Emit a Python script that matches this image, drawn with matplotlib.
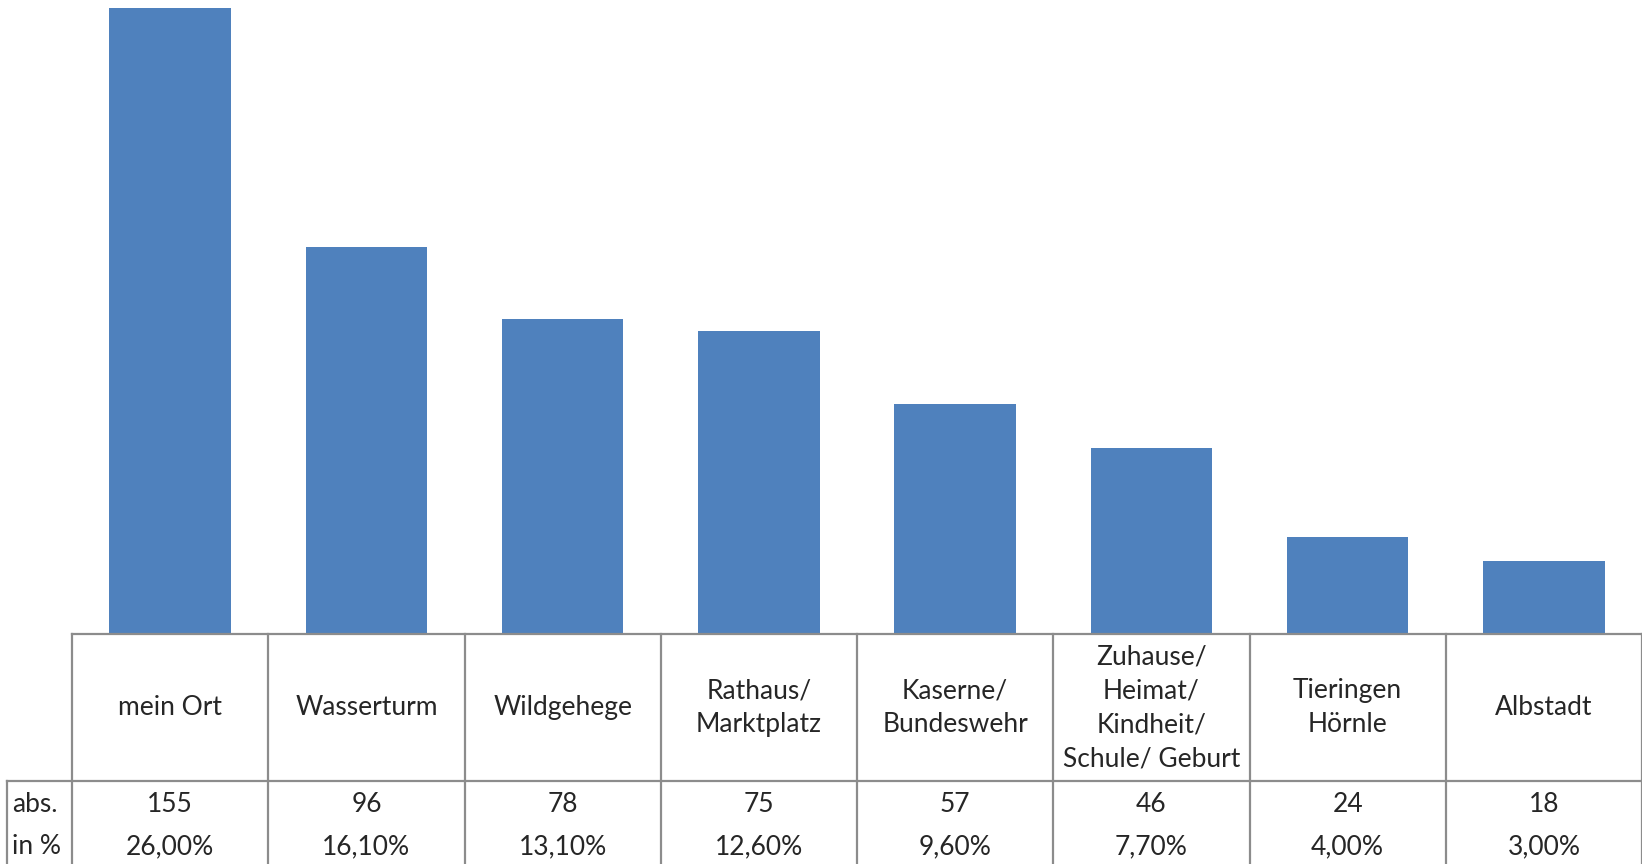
import matplotlib.pyplot as plt
import matplotlib.transforms as mtransforms
from matplotlib.lines import Line2D

# Werte aus der Grafik
categories = ['mein Ort', 'Wasserturm', 'Wildgehege', 'Rathaus/\nMarktplatz',
              'Kaserne/\nBundeswehr', 'Zuhause/\nHeimat/\nKindheit/\nSchule/ Geburt',
              'Tieringen\nHörnle', 'Albstadt']
abs_values = [155, 96, 78, 75, 57, 46, 24, 18]
pct_labels = ['26,00%', '16,10%', '13,10%', '12,60%', '9,60%', '7,70%', '4,00%', '3,00%']
row_labels = ['abs.', 'in %']

W, H = 1642, 864
fig = plt.figure(figsize=(W / 100, H / 100), dpi=100)
plt.rcParams['font.family'] = ['Lato', 'DejaVu Sans']

# layout in pixels (from top)
table_top = 634
label_bottom = 781
abs_y = 804
pct_y = 847
left_px = 72

ax = fig.add_axes([left_px / W, (H - table_top) / H, 1 - left_px / W, table_top / H])
x = list(range(len(categories)))
ax.bar(x, abs_values, width=0.62, color='#4F81BD')
ax.set_xlim(-0.5, len(categories) - 0.5)
ax.set_ylim(0, 155 * table_top / 625.6)
ax.axis('off')

line_color = '#8c8c8c'
lw = 1.6

def fy(px):
    return (H - px) / H

trans = mtransforms.blended_transform_factory(ax.transData, fig.transFigure)

# table lines
edges = [i - 0.5 for i in range(len(categories) + 1)]
ax.add_line(Line2D([edges[0], edges[-1]], [fy(table_top)] * 2, transform=trans,
                   color=line_color, lw=lw, clip_on=False))
fig.add_artist(Line2D([7 / W, 1], [fy(label_bottom)] * 2, color=line_color, lw=lw))
for e in edges:
    ax.add_line(Line2D([e, e], [fy(table_top), 0], transform=trans,
                       color=line_color, lw=lw, clip_on=False))
fig.add_artist(Line2D([7 / W, 7 / W], [fy(label_bottom), 0], color=line_color, lw=lw))

# table text
fs = 19
txt = dict(fontsize=fs, color='#262626')
for i, cat in enumerate(categories):
    ax.text(i, fy((table_top + label_bottom) / 2), cat, transform=trans, ha='center',
            va='center', linespacing=1.45, **txt)
    ax.text(i, fy(abs_y), str(abs_values[i]), transform=trans, ha='center',
            va='center', **txt)
    ax.text(i, fy(pct_y), pct_labels[i], transform=trans, ha='center',
            va='center', **txt)

fig.text(12 / W, fy(abs_y), row_labels[0], ha='left', va='center', **txt)
fig.text(12 / W, fy(pct_y), row_labels[1], ha='left', va='center', **txt)

fig.savefig('out.png', dpi=100)
